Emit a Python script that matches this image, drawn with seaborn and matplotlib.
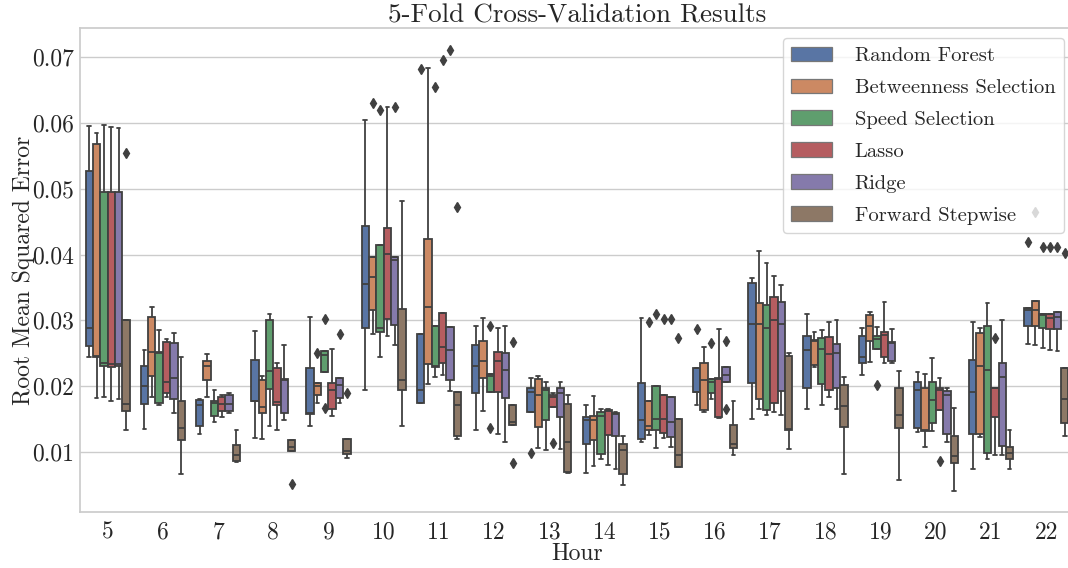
import numpy as np
import pandas as pd
import matplotlib
matplotlib.use("Agg")
import matplotlib.pyplot as plt
import seaborn as sns

# hours on the x axis
hours = list(range(5, 23))

models = ["Random Forest", "Betweenness Selection", "Speed Selection",
          "Lasso", "Ridge", "Forward Stepwise"]

# five CV fold scores (RMSE) per hour, one list per model
random_forest = [
    [0.0244, 0.0261, 0.0289, 0.0527, 0.0595],
    [0.0135, 0.0173, 0.0200, 0.0230, 0.0255],
    [0.0127, 0.0140, 0.0171, 0.0179, 0.0181],
    [0.0121, 0.0177, 0.0178, 0.0240, 0.0284],
    [0.0140, 0.0158, 0.0160, 0.0227, 0.0305],
    [0.0195, 0.0289, 0.0355, 0.0444, 0.0605],
    [0.0174, 0.0175, 0.0194, 0.0279, 0.0682],
    [0.0134, 0.0189, 0.0231, 0.0262, 0.0291],
    [0.0099, 0.0161, 0.0191, 0.0198, 0.0213],
    [0.0068, 0.0113, 0.0149, 0.0153, 0.0172],
    [0.0115, 0.0120, 0.0149, 0.0205, 0.0304],
    [0.0171, 0.0191, 0.0192, 0.0227, 0.0287],
    [0.0150, 0.0205, 0.0294, 0.0357, 0.0364],
    [0.0166, 0.0198, 0.0255, 0.0276, 0.0310],
    [0.0217, 0.0236, 0.0245, 0.0276, 0.0288],
    [0.0131, 0.0136, 0.0194, 0.0206, 0.0222],
    [0.0075, 0.0127, 0.0192, 0.0240, 0.0297],
    [0.0264, 0.0292, 0.0316, 0.0319, 0.0419],
]
betweenness = [
    [0.0182, 0.0244, 0.0246, 0.0568, 0.0584],
    [0.0184, 0.0216, 0.0252, 0.0305, 0.0320],
    [0.0184, 0.0210, 0.0230, 0.0239, 0.0249],
    [0.0120, 0.0160, 0.0168, 0.0210, 0.0215],
    [0.0175, 0.0187, 0.0201, 0.0205, 0.0250],
    [0.0279, 0.0316, 0.0366, 0.0396, 0.0630],
    [0.0204, 0.0234, 0.0320, 0.0423, 0.0684],
    [0.0162, 0.0213, 0.0238, 0.0268, 0.0303],
    [0.0106, 0.0138, 0.0187, 0.0211, 0.0215],
    [0.0079, 0.0119, 0.0148, 0.0155, 0.0185],
    [0.0126, 0.0134, 0.0139, 0.0177, 0.0298],
    [0.0161, 0.0164, 0.0210, 0.0235, 0.0259],
    [0.0165, 0.0181, 0.0294, 0.0327, 0.0406],
    [0.0229, 0.0233, 0.0269, 0.0270, 0.0283],
    [0.0237, 0.0268, 0.0291, 0.0308, 0.0313],
    [0.0107, 0.0132, 0.0134, 0.0198, 0.0218],
    [0.0123, 0.0128, 0.0231, 0.0281, 0.0288],
    [0.0263, 0.0292, 0.0316, 0.0329, 0.0465],
]
speed = [
    [0.0184, 0.0230, 0.0236, 0.0495, 0.0597],
    [0.0172, 0.0175, 0.0250, 0.0252, 0.0286],
    [0.0145, 0.0155, 0.0174, 0.0177, 0.0194],
    [0.0139, 0.0196, 0.0223, 0.0301, 0.0309],
    [0.0167, 0.0222, 0.0248, 0.0253, 0.0302],
    [0.0245, 0.0282, 0.0289, 0.0414, 0.0619],
    [0.0214, 0.0229, 0.0231, 0.0292, 0.0654],
    [0.0137, 0.0191, 0.0215, 0.0218, 0.0291],
    [0.0103, 0.0149, 0.0195, 0.0197, 0.0206],
    [0.0089, 0.0097, 0.0155, 0.0161, 0.0166],
    [0.0106, 0.0133, 0.0151, 0.0200, 0.0310],
    [0.0181, 0.0189, 0.0207, 0.0211, 0.0266],
    [0.0156, 0.0164, 0.0288, 0.0323, 0.0387],
    [0.0171, 0.0203, 0.0257, 0.0274, 0.0285],
    [0.0202, 0.0257, 0.0271, 0.0277, 0.0290],
    [0.0132, 0.0144, 0.0179, 0.0206, 0.0243],
    [0.0089, 0.0099, 0.0225, 0.0292, 0.0326],
    [0.0258, 0.0288, 0.0308, 0.0310, 0.0411],
]
lasso = [
    [0.0177, 0.0229, 0.0234, 0.0495, 0.0593],
    [0.0184, 0.0189, 0.0207, 0.0267, 0.0271],
    [0.0154, 0.0162, 0.0173, 0.0183, 0.0187],
    [0.0134, 0.0172, 0.0176, 0.0227, 0.0235],
    [0.0155, 0.0166, 0.0194, 0.0205, 0.0256],
    [0.0277, 0.0302, 0.0401, 0.0441, 0.0624],
    [0.0217, 0.0236, 0.0260, 0.0311, 0.0695],
    [0.0127, 0.0192, 0.0239, 0.0252, 0.0288],
    [0.0114, 0.0169, 0.0183, 0.0186, 0.0189],
    [0.0081, 0.0126, 0.0163, 0.0164, 0.0165],
    [0.0122, 0.0129, 0.0151, 0.0186, 0.0302],
    [0.0152, 0.0154, 0.0211, 0.0213, 0.0287],
    [0.0161, 0.0174, 0.0300, 0.0335, 0.0367],
    [0.0183, 0.0195, 0.0249, 0.0275, 0.0297],
    [0.0235, 0.0244, 0.0278, 0.0282, 0.0328],
    [0.0087, 0.0164, 0.0194, 0.0197, 0.0213],
    [0.0096, 0.0154, 0.0197, 0.0198, 0.0273],
    [0.0255, 0.0287, 0.0303, 0.0310, 0.0411],
]
ridge = [
    [0.0180, 0.0230, 0.0234, 0.0495, 0.0592],
    [0.0159, 0.0180, 0.0213, 0.0265, 0.0281],
    [0.0159, 0.0163, 0.0173, 0.0187, 0.0189],
    [0.0149, 0.0160, 0.0209, 0.0211, 0.0262],
    [0.0175, 0.0182, 0.0202, 0.0212, 0.0280],
    [0.0262, 0.0293, 0.0392, 0.0396, 0.0624],
    [0.0193, 0.0209, 0.0255, 0.0290, 0.0710],
    [0.0115, 0.0182, 0.0225, 0.0250, 0.0292],
    [0.0105, 0.0153, 0.0189, 0.0198, 0.0206],
    [0.0074, 0.0124, 0.0158, 0.0159, 0.0161],
    [0.0107, 0.0123, 0.0145, 0.0184, 0.0302],
    [0.0166, 0.0206, 0.0217, 0.0229, 0.0268],
    [0.0156, 0.0193, 0.0294, 0.0328, 0.0354],
    [0.0165, 0.0198, 0.0251, 0.0264, 0.0300],
    [0.0235, 0.0239, 0.0266, 0.0267, 0.0287],
    [0.0116, 0.0127, 0.0186, 0.0193, 0.0198],
    [0.0096, 0.0109, 0.0214, 0.0235, 0.0301],
    [0.0254, 0.0287, 0.0305, 0.0312, 0.0411],
]
forward_stepwise = [
    [0.0133, 0.0163, 0.0173, 0.0301, 0.0554],
    [0.0066, 0.0118, 0.0136, 0.0177, 0.0244],
    [0.0085, 0.0087, 0.0096, 0.0111, 0.0133],
    [0.0052, 0.0101, 0.0107, 0.0118, 0.0119],
    [0.0091, 0.0097, 0.0102, 0.0120, 0.0190],
    [0.0140, 0.0195, 0.0209, 0.0318, 0.0481],
    [0.0120, 0.0125, 0.0171, 0.0192, 0.0472],
    [0.0084, 0.0141, 0.0145, 0.0171, 0.0267],
    [0.0068, 0.0069, 0.0115, 0.0173, 0.0187],
    [0.0050, 0.0066, 0.0103, 0.0112, 0.0124],
    [0.0077, 0.0078, 0.0095, 0.0150, 0.0273],
    [0.0095, 0.0106, 0.0113, 0.0141, 0.0177],
    [0.0104, 0.0134, 0.0135, 0.0246, 0.0251],
    [0.0066, 0.0138, 0.0170, 0.0202, 0.0214],
    [0.0058, 0.0136, 0.0157, 0.0198, 0.0223],
    [0.0041, 0.0083, 0.0094, 0.0125, 0.0167],
    [0.0074, 0.0090, 0.0099, 0.0108, 0.0133],
    [0.0124, 0.0144, 0.0181, 0.0228, 0.0402],
]

scores = [random_forest, betweenness, speed, lasso, ridge, forward_stepwise]

rows = []
for model, per_hour in zip(models, scores):
    for hour, folds in zip(hours, per_hour):
        for v in folds:
            rows.append((hour, model, v))
df = pd.DataFrame(rows, columns=["Hour", "Model", "RMSE"])

sns.set_theme(style="whitegrid")
plt.rcParams["font.family"] = ["cmr10", "DejaVu Serif"]
plt.rcParams["axes.formatter.use_mathtext"] = True
plt.rcParams["mathtext.fontset"] = "cm"

fig, ax = plt.subplots(figsize=(10.68, 5.68), dpi=100)
ax.set_position([0.0749, 0.0986, 0.9307, 0.852])

gray = "#404040"
sns.boxplot(data=df, x="Hour", y="RMSE", hue="Model", hue_order=models,
            palette="deep", linewidth=1.3, linecolor=gray, ax=ax,
            flierprops=dict(marker="d", markersize=5,
                            markerfacecolor=gray, markeredgecolor=gray))

ax.set_ylim(0.0009, 0.0744)
ax.set_yticks([0.01, 0.02, 0.03, 0.04, 0.05, 0.06, 0.07])
ax.set_yticklabels(["0.01", "0.02", "0.03", "0.04", "0.05", "0.06", "0.07"])
ax.tick_params(axis="both", labelsize=17, length=0)
ax.tick_params(axis="y", pad=4)
ax.tick_params(axis="x", pad=7)
ax.set_title("5-Fold Cross-Validation Results", fontsize=19.5, pad=4)
ax.set_xlabel("Hour", fontsize=17, labelpad=-1)
ax.set_ylabel("Root Mean Squared Error", fontsize=17, labelpad=-2)

sns.move_legend(ax, "upper right", title=None, fontsize=14.8, frameon=True,
                labelspacing=0.66, handletextpad=1.1)
for p in ax.get_legend().get_patches():
    p.set_linewidth(0.9)
    p.set_edgecolor("#777777")

fig.savefig("out.png", dpi=100)
